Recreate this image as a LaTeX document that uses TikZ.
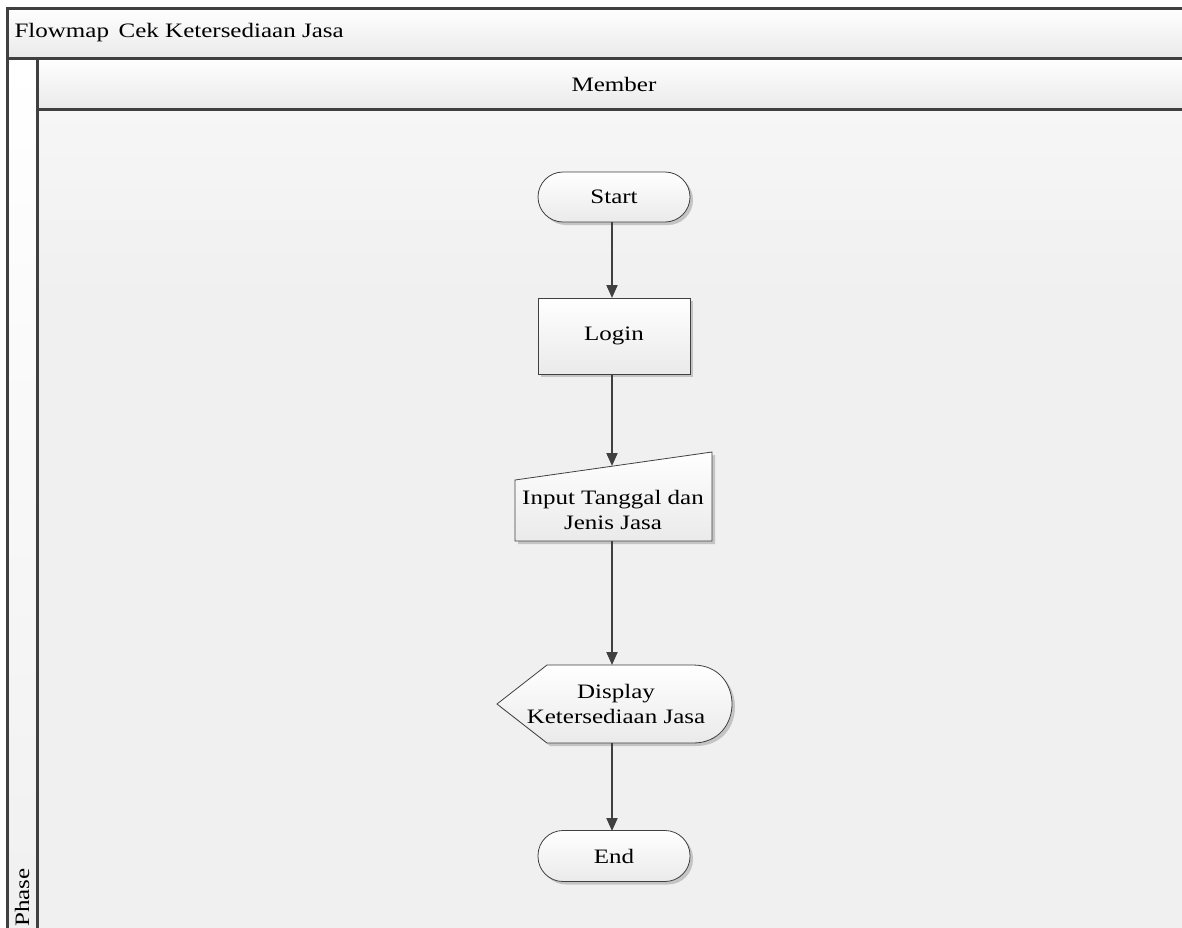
\documentclass[tikz,border=0pt]{standalone}
\usepackage{fontspec}
\setmainfont[FakeStretch=1.22]{Liberation Serif}
\usetikzlibrary{arrows.meta,shadows}
\definecolor{frame}{HTML}{404040}
\definecolor{lanebg}{HTML}{F0F0F0}
\definecolor{shade2}{HTML}{EAEAEA}
\definecolor{shadowc}{HTML}{C4C4C4}
\tikzset{
  lbl/.style={font=\fontsize{20.5}{25}\selectfont, text=black, align=center},
  flowbox/.style={draw=frame, line width=0.8pt, top color=white, bottom color=shade2},
  boxshadow/.style={drop shadow={shadow xshift=3pt, shadow yshift=-3pt, fill=shadowc, opacity=1}},
  flowarrow/.style={draw=frame, line width=2pt, -{Triangle[length=13pt,width=11pt]}},
  frameline/.style={draw=frame, line width=3pt}
}
\begin{document}
\begin{tikzpicture}[x=1pt,y=-1pt]
\useasboundingbox (0,0) rectangle (1182,927);
\clip (0,0) rectangle (1182,927);
% background
\fill[white] (0,0) rectangle (1182,927);
\shade[top color=white, bottom color=shade2] (7,8) rectangle (1200,58);
\shade[top color=white, bottom color=shade2] (37,58) rectangle (1200,109);
\shade[top color=white, bottom color=lanebg] (7,58) rectangle (37,940);
\shade[top color=white!40!lanebg, bottom color=lanebg] (37,109) rectangle (1200,300);
\fill[lanebg] (37,299) rectangle (1200,940);
% frame lines
\draw[frameline] (7,8) -- (1200,8);
\draw[frameline] (7,6.5) -- (7,940);
\draw[frameline] (7,58) -- (1200,58);
\draw[frameline] (37,58) -- (37,940);
\draw[frameline] (37,109) -- (1200,109);
% headers
\node[lbl, anchor=west] (title) at (11,33) {Flowmap\, Cek Ketersediaan Jasa};
\node[lbl] (member) at (614,84) {Member};
\node[lbl, rotate=90, anchor=west, inner sep=1pt] (phase) at (22,928) {Phase};
% Start
\node[lbl, flowbox, boxshadow, rounded corners=25pt, minimum width=152pt, minimum height=50pt] (start) at (614,197) {Start};
% Login
\node[lbl, flowbox, boxshadow, minimum width=152pt, minimum height=76pt] (login) at (614,336) {Login};
% Input (manual input)
\fill[shadowc] (518,483) -- (715,455) -- (715,544) -- (518,544) -- cycle;
\path[flowbox] (515,480) -- (712,452) -- (712,541) -- (515,541) -- cycle;
\node[lbl, inner sep=0pt] (input) at (613,510) {Input Tanggal dan\\Jenis Jasa};
\coordinate (intop) at (612,466);
% Display
\fill[shadowc] (500,707) -- (550,668) -- (696,668) .. controls (748,668) and (748,746) .. (696,746) -- (550,746) -- cycle;
\path[flowbox] (497,704) -- (547,665) -- (693,665) .. controls (745,665) and (745,743) .. (693,743) -- (547,743) -- cycle;
\node[lbl, inner sep=0pt] (display) at (616,704) {Display\\Ketersediaan Jasa};
\coordinate (distop) at (612,665);
\coordinate (disbot) at (612,743);
% End
\node[lbl, flowbox, boxshadow, rounded corners=25pt, minimum width=152pt, minimum height=51pt] (endn) at (614,856) {End};
% arrows
\draw[flowarrow] (612,222) -- (612,298);
\draw[flowarrow] (612,374) -- (intop);
\draw[flowarrow] (612,541) -- (distop);
\draw[flowarrow] (disbot) -- (612,831);
\end{tikzpicture}
\end{document}
